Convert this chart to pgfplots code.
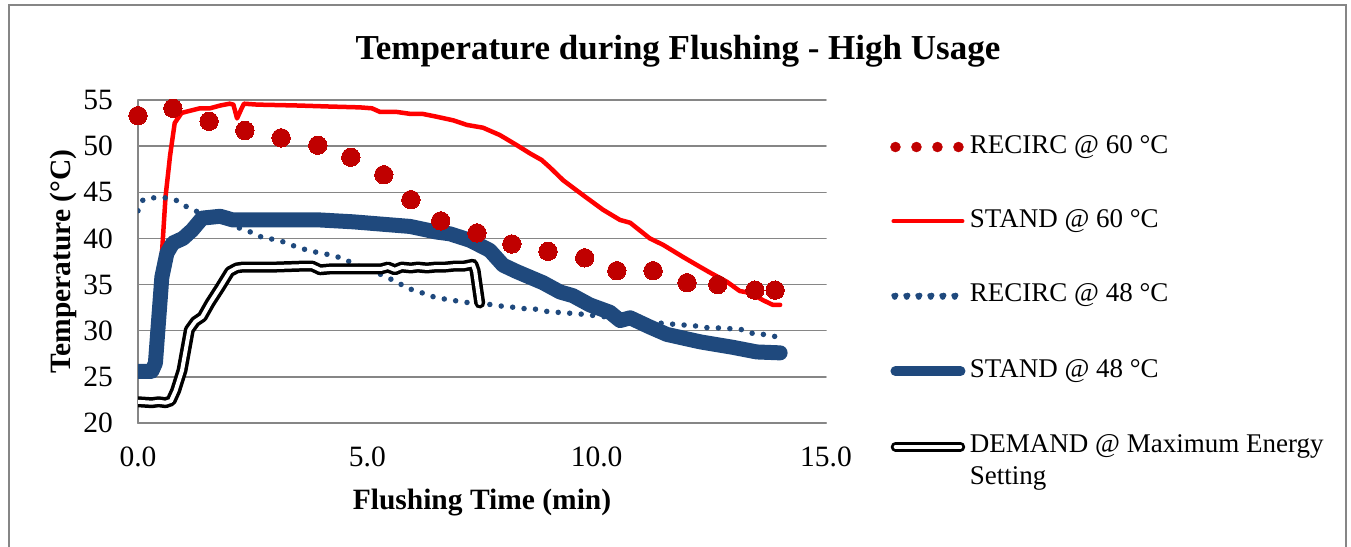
\documentclass[border=0pt]{standalone}
\usepackage{fontspec}
\setmainfont{Liberation Serif}
\usepackage{pgfplots}
\pgfplotsset{compat=1.18}

\definecolor{recircred}{RGB}{192,0,0}
\definecolor{standred}{RGB}{255,0,0}
\definecolor{navy}{RGB}{31,73,125}
\definecolor{gridgray}{RGB}{134,134,134}

\begin{document}
\begin{tikzpicture}
% outer chart frame
\draw[gridgray, line width=1.5pt] (9pt,-20pt) rectangle (1346pt,541pt);
% chart title
\node[font=\bfseries\fontsize{35}{42}\selectfont, anchor=base] at (678pt,486pt)
  {Temperature during Flushing - High Usage};

\begin{axis}[
  scale only axis,
  width=688pt, height=323pt,
  at={(138pt,123pt)}, anchor=south west,
  xmin=0, xmax=15, ymin=20, ymax=55,
  xtick={0,5,10,15}, ytick={20,25,...,55},
  axis x line*=bottom, axis y line*=left,
  axis line style={gridgray, line width=1.5pt, -},
  ymajorgrids,
  grid style={gridgray, line width=1.5pt},
  major tick length=0pt,
  /pgf/number format/assume math mode=true,
  tick label style={font=\fontsize{29.5}{35}\selectfont},
  xticklabel style={inner sep=0pt, anchor=north, yshift=-24pt,
    /pgf/number format/.cd, fixed, fixed zerofill, precision=1},
  yticklabel style={inner sep=0pt, anchor=east, xshift=-25pt},
  xlabel={Flushing Time (min)},
  ylabel={Temperature (°C)},
  label style={font=\bfseries\fontsize{29.5}{35}\selectfont},
  xlabel style={at={(axis description cs:0.5,0)}, anchor=base, yshift=-86pt},
  ylabel style={at={(axis description cs:-0.0988,0.5)}, anchor=base},
  legend cell align=left,
  legend style={at={(axis description cs:1.0828,0.8916)}, anchor=north west,
    draw=none, fill=none, inner sep=0pt, outer sep=0pt, row sep=50.2pt,
    font=\fontsize{27}{32}\selectfont,
    nodes={inner sep=0pt, text height=18pt, text depth=6pt},
    /tikz/every odd column/.append style={column sep=-3pt}},
  line join=round, line cap=round,
]

% RECIRC @ 60 °C
\addplot[recircred, only marks, mark=*, mark size=9.2pt,
  mark options={draw=recircred, fill=recircred, line width=0pt},
  legend image code/.code={
    \path (0pt,-6pt) (75pt,6pt);
    \fill[recircred] (5pt,0pt) circle (5pt) (26pt,0pt) circle (5pt)
                     (47pt,0pt) circle (5pt) (68pt,0pt) circle (5pt);}]
coordinates {
(0,53.3) (0.76,54.1) (1.55,52.7) (2.33,51.7) (3.12,50.9) (3.92,50.1)
(4.64,48.8) (5.36,46.9) (5.95,44.2) (6.6,41.9) (7.39,40.6) (8.15,39.4)
(8.94,38.6) (9.74,37.9) (10.44,36.5) (11.23,36.5) (11.97,35.2) (12.64,35.0)
(13.45,34.4) (13.89,34.4)};
\addlegendentry{RECIRC @ 60 °C}

% STAND @ 60 °C
\addplot[standred, line width=4.5pt, no marks,
  legend image code/.code={
    \path (0pt,-6pt) (75pt,6pt);
    \draw[standred, line width=4pt, line cap=round] (3pt,0pt) -- (72pt,0pt);}]
coordinates {
(0,25.6) (0.35,25.6) (0.42,26.5) (0.48,33) (0.53,39) (0.6,44.5) (0.7,49)
(0.8,52.5) (0.95,53.6) (1.35,54.1) (1.57,54.1) (1.79,54.4) (2.0,54.6)
(2.08,54.5) (2.16,53.0) (2.25,54.0) (2.31,54.6) (2.6,54.5) (3.5,54.4)
(4.12,54.3) (4.84,54.2) (5.1,54.1) (5.28,53.7) (5.65,53.7) (5.93,53.5)
(6.2,53.5) (6.5,53.2) (6.87,52.8) (7.17,52.3) (7.52,52.0) (7.89,51.2)
(8.26,50.1) (8.55,49.2) (8.8,48.5) (8.98,47.7) (9.27,46.3) (9.7,44.7)
(10.14,43.1) (10.51,42.0) (10.73,41.7) (11.16,40.0) (11.45,39.3)
(11.88,38.0) (12.19,37.1) (12.47,36.3) (12.84,35.3) (13.12,34.3)
(13.34,34.1) (13.63,33.3) (13.84,32.8) (14.0,32.8)};
\addlegendentry{STAND @ 60 °C}

% RECIRC @ 48 °C
\addplot[navy, line width=5.5pt, no marks, dash pattern=on 0pt off 11.5pt, line cap=round,
  legend image code/.code={
    \path (0pt,-6pt) (75pt,6pt);
    \fill[navy] (3pt,0pt) circle (2.2pt) (15pt,0pt) circle (2.2pt)
                (27pt,0pt) circle (2.2pt) (39pt,0pt) circle (2.2pt)
                (51pt,0pt) circle (2.2pt) (63pt,0pt) circle (2.2pt);}]
coordinates {
(0,43.0) (0.11,44.2) (0.33,44.4) (0.61,44.4) (0.85,44.1) (1.07,43.4)
(1.29,42.9) (1.8,42.0) (2.27,41.0) (2.51,40.6) (2.75,40.0) (2.99,39.9)
(3.25,39.5) (3.49,39.0) (3.73,38.7) (3.97,38.4) (4.23,38.2) (4.47,37.8)
(4.69,37.3) (4.93,36.7) (5.17,36.4) (5.41,35.8) (5.65,35.3) (5.86,34.6)
(6.1,34.3) (6.34,33.8) (6.6,33.5) (6.85,33.3) (7.13,33.1) (7.35,32.9)
(7.6,32.9) (7.85,32.7) (8.1,32.6) (8.37,32.4) (8.6,32.4) (8.9,32.1)
(9.13,32.0) (9.4,31.9) (9.66,31.8) (10.2,31.5) (10.7,31.2) (11.2,30.9)
(11.68,30.7) (11.95,30.6) (12.19,30.5) (12.45,30.3) (12.7,30.3)
(12.97,30.2) (13.21,30.1) (13.45,29.6) (13.7,29.6) (13.95,29.3)};
\addlegendentry{RECIRC @ 48 °C}

% STAND @ 48 °C
\addplot[navy, line width=15pt, no marks,
  legend image code/.code={
    \path (0pt,-6pt) (75pt,6pt);
    \draw[navy, line width=10pt, line cap=round] (5pt,0pt) -- (70pt,0pt);}]
coordinates {
(0,25.6) (0.3,25.6) (0.38,26.5) (0.44,30.5) (0.52,35.8) (0.63,38.4)
(0.76,39.5) (0.98,40.0) (1.18,40.9) (1.4,42.2) (1.79,42.4) (2.07,42.0)
(2.88,42.0) (3.97,42.0) (4.69,41.8) (5.43,41.5) (5.93,41.3) (6.5,40.7)
(6.8,40.5) (7.24,39.8) (7.67,38.7) (7.96,37.1) (8.26,36.4) (8.83,35.2)
(9.2,34.2) (9.48,33.8) (9.85,32.8) (10.29,32.0) (10.51,31.1) (10.73,31.4)
(11.16,30.4) (11.53,29.6) (12.25,28.8) (12.97,28.2) (13.49,27.7)
(14.0,27.6)};
\addlegendentry{STAND @ 48 °C}

% DEMAND @ maximum energy setting
\addplot[black, line width=3.5pt, double=white, double distance=4pt, no marks,
  legend image code/.code={
    \path (0pt,-6pt) (75pt,6pt);
    \draw[black, line width=3pt, double=white, double distance=3.5pt, line cap=round] (5pt,0pt) -- (70pt,0pt);}]
coordinates {
(0,22.3) (0.3,22.2) (0.45,22.3) (0.6,22.2) (0.72,22.4) (0.82,23.5)
(0.96,25.7) (1.12,30.1) (1.25,31.0) (1.4,31.5) (1.57,33.0) (1.79,34.7)
(2.0,36.4) (2.15,36.8) (2.29,36.9) (3.0,36.9) (3.6,37.0) (3.8,37.0)
(3.97,36.6) (4.2,36.7) (5.3,36.7) (5.45,36.9) (5.6,36.6) (5.75,36.9)
(5.95,36.8) (6.1,36.9) (6.3,36.8) (6.5,36.9) (6.7,36.9) (6.9,37.0)
(7.1,37.0) (7.3,37.2) (7.35,36.5) (7.45,33.0)};
\addlegendentry{\begin{tabular}[t]{@{}l@{}}DEMAND @ Maximum Energy\\Setting\end{tabular}}

\end{axis}

\pgfresetboundingbox
\path[use as bounding box] (0pt,0pt) rectangle (1351pt,546pt);
\end{tikzpicture}
\end{document}
